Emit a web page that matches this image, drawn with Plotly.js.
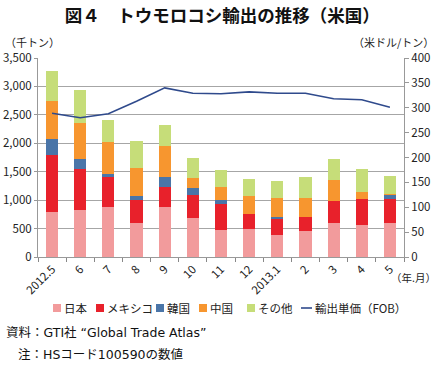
<!DOCTYPE html>
<html><head><meta charset="utf-8">
<script src="https://cdn.plot.ly/plotly-3.0.1.min.js"></script>
<style>html,body{margin:0;padding:0;background:#fff;}#chart{width:440px;height:366px;}</style>
</head><body><div id="chart"></div>
<script>
const categories = ["2012.5","6","7","8","9","10","11","12","2013.1","2","3","4","5"];
const japan  = [790,830,880,600,880,690,470,500,390,450,590,560,605];
const mexico = [1000,720,520,410,360,400,465,250,275,260,400,465,420];
const korea  = [280,180,65,70,160,130,70,0,30,0,0,0,65];
const china  = [670,620,555,490,550,170,230,330,345,330,360,125,10];
const other  = [540,580,390,470,380,350,290,290,300,360,375,395,320];
const price  = [289,280,288,313,340,329,328,332,329,329,318,316,301];
const seriesNames = ["日本","メキシコ","韓国","中国","その他"];
const lineName = "輸出単価（FOB）";
const colors = ["#F29B9C","#E8212B","#4A75A8","#F7962F","#C6DD79"];
const lineColor = "#2F4A8C";
const FONT = "'Noto Sans CJK JP', 'Noto Sans', sans-serif";
const NOTEFONT = "'DejaVu Sans', 'Noto Sans CJK JP', sans-serif";

const L = 38, R = 404, T = 58, B = 257, W = 440, H = 366;
const px = x => (x - L) / (R - L);
const py = y => (B - y) / (B - T);

const barData = [japan, mexico, korea, china, other];
const traces = barData.map((v, i) => ({
  type: "bar", x: categories, y: v, name: seriesNames[i],
  marker: {color: colors[i], line: {width: 0}}, showlegend: false, hoverinfo: "y"
}));
traces.push({
  type: "scatter", mode: "lines", x: categories, y: price, yaxis: "y2",
  name: lineName, line: {color: lineColor, width: 1.6}, showlegend: false
});

const shapes = [];
const annotations = [];
// legend
const legItems = [
  {x: 53, label: seriesNames[0], color: colors[0]},
  {x: 96, label: seriesNames[1], color: colors[1]},
  {x: 156, label: seriesNames[2], color: colors[2]},
  {x: 199, label: seriesNames[3], color: colors[3]},
  {x: 247, label: seriesNames[4], color: colors[4]}
];
const legY = 308;
const LEGFONT = {family: FONT, size: 11.5, color: "#222"};
legItems.forEach(it => {
  shapes.push({type: "rect", xref: "paper", yref: "paper", x0: px(it.x), x1: px(it.x + 8),
    y0: py(legY + 4), y1: py(legY - 4), fillcolor: it.color, line: {width: 0}});
  annotations.push({xref: "paper", yref: "paper", x: px(it.x + 9), y: py(legY), xanchor: "left",
    yanchor: "middle", showarrow: false, text: it.label, font: LEGFONT});
});
shapes.push({type: "line", xref: "paper", yref: "paper", x0: px(301), x1: px(312),
  y0: py(legY), y1: py(legY), line: {color: lineColor, width: 1.6}});
annotations.push({xref: "paper", yref: "paper", x: px(313), y: py(legY), xanchor: "left",
  yanchor: "middle", showarrow: false, text: lineName, font: LEGFONT});

// unit labels
annotations.push({xref: "paper", yref: "paper", x: px(3), y: py(42), xanchor: "left", yanchor: "middle",
  showarrow: false, text: "（千トン）", font: {family: FONT, size: 11, color: "#222"}});
annotations.push({xref: "paper", yref: "paper", x: px(436), y: py(42), xanchor: "right", yanchor: "middle",
  showarrow: false, text: "（米ドル/トン）", font: {family: FONT, size: 11, color: "#222"}});
annotations.push({xref: "paper", yref: "paper", x: px(438), y: py(277), xanchor: "right", yanchor: "middle",
  showarrow: false, text: "（年.月）", font: {family: FONT, size: 10.5, color: "#222"}});
// notes
annotations.push({xref: "paper", yref: "paper", x: px(4), y: py(332), xanchor: "left", yanchor: "middle",
  showarrow: false, text: "資料：GTI社 “Global Trade Atlas”", font: {family: NOTEFONT, size: 12.5, color: "#111"}});
annotations.push({xref: "paper", yref: "paper", x: px(16), y: py(354), xanchor: "left", yanchor: "middle",
  showarrow: false, text: "注：HSコード100590の数値", font: {family: NOTEFONT, size: 12.5, color: "#111"}});

const layout = {
  width: W, height: H,
  margin: {l: L, r: W - R, t: T, b: H - B, pad: 0},
  paper_bgcolor: "#fff", plot_bgcolor: "#fff",
  barmode: "stack", bargap: 0.57,
  showlegend: false,
  title: {text: "<b>図４　トウモロコシ輸出の推移（米国）</b>", x: 0.505, xanchor: "center", y: 1 - 16 / H, yanchor: "middle",
    font: {family: FONT, size: 17.5, color: "#111"}},
  font: {family: FONT, color: "#222"},
  xaxis: {
    type: "category", tickangle: -45, tickson: "boundaries", ticks: "outside", ticklen: 4,
    tickcolor: "#888", showline: true, linecolor: "#999", linewidth: 1, showgrid: false,
    tickfont: {family: FONT, size: 11.5, color: "#222"}, fixedrange: true
  },
  yaxis: {
    range: [0, 3500], dtick: 500, tickformat: ",d", showgrid: true, gridcolor: "#a6a6a6", gridwidth: 1,
    showline: true, linecolor: "#999", ticks: "outside", ticklen: 3, tickcolor: "#999",
    zeroline: false, tickfont: {family: FONT, size: 11.5, color: "#222"}, fixedrange: true
  },
  yaxis2: {
    overlaying: "y", side: "right", range: [0, 400], dtick: 50, showgrid: false,
    showline: true, linecolor: "#999", ticks: "outside", ticklen: 4, tickcolor: "#999",
    zeroline: false, tickfont: {family: FONT, size: 11.5, color: "#222"}, fixedrange: true
  },
  shapes: shapes,
  annotations: annotations
};
Plotly.newPlot("chart", traces, layout, {displayModeBar: false, staticPlot: true});
</script></body></html>
